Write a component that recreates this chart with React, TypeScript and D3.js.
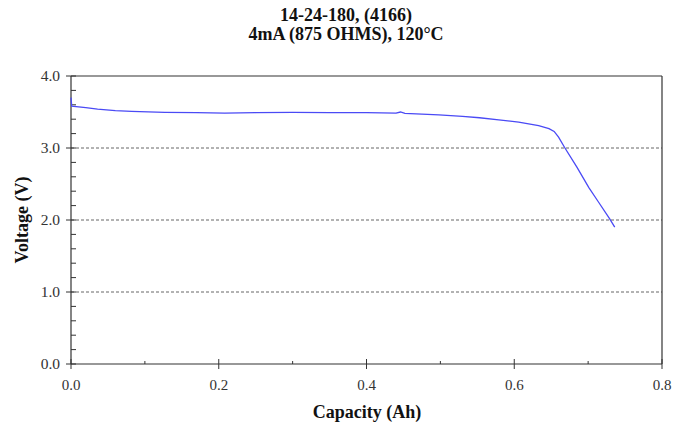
import React from "react";
import * as d3 from "d3";

const titleLines = ["14-24-180, (4166)", "4mA (875 OHMS), 120\u00B0C"];
const xLabel = "Capacity (Ah)";
const yLabel = "Voltage (V)";

const capacity = [0, 0.001, 0.02, 0.036, 0.06, 0.082, 0.127, 0.17, 0.208, 0.25, 0.3, 0.35, 0.4, 0.44, 0.446, 0.452, 0.498, 0.53, 0.553, 0.579, 0.606, 0.633, 0.647, 0.654, 0.66, 0.668, 0.685, 0.701, 0.714, 0.729, 0.736];
const voltage = [3.7, 3.58, 3.56, 3.54, 3.52, 3.51, 3.495, 3.49, 3.485, 3.49, 3.495, 3.49, 3.49, 3.485, 3.5, 3.48, 3.46, 3.44, 3.42, 3.39, 3.36, 3.31, 3.27, 3.23, 3.15, 3.01, 2.73, 2.45, 2.25, 2.02, 1.9];

const xTicks = [0, 0.2, 0.4, 0.6, 0.8];
const xMinor = [0.1, 0.3, 0.5, 0.7];
const yTicks = [0, 1, 2, 3, 4];
const yMinor = d3.range(0, 4.001, 0.2);
const gridLines = [1, 2, 3];

export default function App() {
  const W = 683, H = 426;
  const left = 71, right = 662, top = 76, bottom = 364;
  const x = d3.scaleLinear().domain([0, 0.8]).range([left, right]);
  const y = d3.scaleLinear().domain([0, 4]).range([bottom, top]);
  const pts = capacity.map((c, i) => [c, voltage[i]] as [number, number]);
  const line = d3.line<[number, number]>().x(d => x(d[0])).y(d => y(d[1]));
  const serif = "'Liberation Serif', 'Times New Roman', serif";
  const axisColor = "#333";
  return (
    <svg width={W} height={H} style={{ position: "absolute", left: 0, top: 0, background: "#fff" }} fontFamily={serif}>
      {titleLines.map((t, i) => (
        <text key={t} x={346} y={21 + i * 19} textAnchor="middle" fontWeight="bold" fontSize={18} fill="#111">{t}</text>
      ))}
      {gridLines.map(v => (
        <line key={v} x1={left} x2={right} y1={y(v)} y2={y(v)} stroke="#666" strokeWidth={1} strokeDasharray="3,2" />
      ))}
      <line x1={left} x2={right} y1={top} y2={top} stroke={axisColor} strokeWidth={1.2} />
      <line x1={right} x2={right} y1={top} y2={bottom} stroke={axisColor} strokeWidth={1.2} />
      <line x1={left} x2={left} y1={top} y2={bottom} stroke={axisColor} strokeWidth={1.2} />
      <line x1={left} x2={right} y1={bottom} y2={bottom} stroke={axisColor} strokeWidth={1.2} />
      {yMinor.map(v => (
        <line key={"ym" + v} x1={left} x2={left + 5} y1={y(v)} y2={y(v)} stroke={axisColor} strokeWidth={1} />
      ))}
      {yTicks.map(v => (
        <g key={"y" + v}>
          <line x1={left - 5} x2={left} y1={y(v)} y2={y(v)} stroke={axisColor} strokeWidth={1} />
          <text x={left - 11} y={y(v) + 5} textAnchor="end" fontSize={15.5} fill="#333">{v.toFixed(1)}</text>
        </g>
      ))}
      {xMinor.map(v => (
        <line key={"xm" + v} x1={x(v)} x2={x(v)} y1={bottom - 3} y2={bottom} stroke={axisColor} strokeWidth={1} />
      ))}
      {xTicks.map(v => (
        <g key={"x" + v}>
          <line x1={x(v)} x2={x(v)} y1={bottom - 5} y2={bottom + 5} stroke={axisColor} strokeWidth={1} />
          <text x={x(v)} y={bottom + 26} textAnchor="middle" fontSize={15} fill="#333">{v.toFixed(1)}</text>
        </g>
      ))}
      <path d={line(pts) || ""} fill="none" stroke="#4a4af5" strokeWidth={1.3} />
      <text x={367} y={418} textAnchor="middle" fontWeight="bold" fontSize={18} fill="#111">{xLabel}</text>
      <text transform={`translate(28,${(top + bottom) / 2}) rotate(-90)`} textAnchor="middle" fontWeight="bold" fontSize={18} fill="#111">{yLabel}</text>
    </svg>
  );
}
